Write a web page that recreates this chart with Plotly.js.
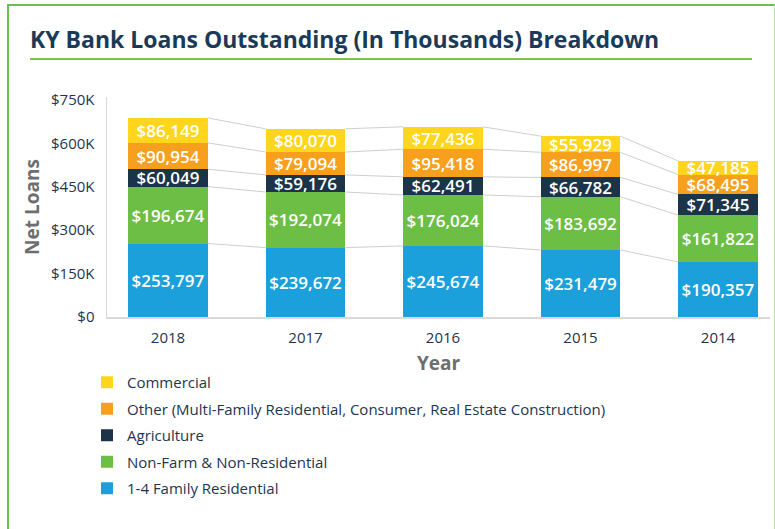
<!DOCTYPE html>
<html>
<head>
<meta charset="utf-8">
<script src="https://cdn.plot.ly/plotly-3.0.1.min.js"></script>
<style>
  html, body { margin: 0; padding: 0; background: #ffffff; overflow: hidden; }
  #chart { position: absolute; left: 0; top: 0; width: 775px; height: 529px; }
  #frame { position: absolute; left: 7px; top: 4px; width: 765px; height: 600px;
           border-left: 2px solid #6cc04a; border-top: 2px solid #6cc04a; border-right: 1px solid #bde3a5;
           pointer-events: none; }
</style>
</head>
<body>
<div id="chart"></div>
<div id="frame"></div>
<script>
// ---- data ----
const years = ["2018", "2017", "2016", "2015", "2014"];
const seriesNames = [
  "1-4 Family Residential",
  "Non-Farm & Non-Residential",
  "Agriculture",
  "Other (Multi-Family Residential, Consumer, Real Estate Construction)",
  "Commercial"
];
const family14   = [253797, 239672, 245674, 231479, 190357];
const nonFarm    = [196674, 192074, 176024, 183692, 161822];
const agriculture= [60049, 59176, 62491, 66782, 71345];
const other      = [90954, 79094, 95418, 86997, 68495];
const commercial = [86149, 80070, 77436, 55929, 47185];
const yTickVals  = [0, 150000, 300000, 450000, 600000, 750000];
const yTickText  = ["$0", "$150K", "$300K", "$450K", "$600K", "$750K"];

// ---- styling ----
const colors = ["#1ba0db", "#6cbe45", "#1c3449", "#f7a01e", "#ffd51e"];
const seriesValues = [family14, nonFarm, agriculture, other, commercial];
const W = 775, H = 529;
const M = { l: 107, r: 5, t: 97, b: 212 };
const plotW = W - M.l - M.r, plotH = H - M.t - M.b;
const xPos = years.map((_, i) => i);
const barW = 0.58;
const navy = "#1e3550";
const gray = "#6d6e71";
const FONT = "Open Sans, Noto Sans, sans-serif";

const traces = [];
// connector ("series") lines between bar tops
const cum = xPos.map(() => 0);
const lineX = [], lineY = [];
seriesValues.forEach(vals => {
  vals.forEach((v, i) => { cum[i] += v; });
  for (let i = 0; i < xPos.length - 1; i++) {
    lineX.push(xPos[i] + barW / 2, xPos[i + 1] - barW / 2, null);
    lineY.push(cum[i], cum[i + 1], null);
  }
});
traces.push({
  type: "scatter", mode: "lines", x: lineX, y: lineY,
  line: { color: "#cfcfcf", width: 1 }, showlegend: false, hoverinfo: "skip"
});

seriesValues.forEach((vals, k) => {
  traces.push({
    type: "bar", name: seriesNames[k], x: xPos, y: vals, width: barW,
    legendgroup: "g" + k,
    legendrank: seriesValues.length - k,
    marker: { color: colors[k], line: { width: 0 } },
    text: vals.map(v => "$" + v.toLocaleString("en-US")),
    textposition: "inside", insidetextanchor: "middle", constraintext: "none",
    textangle: 0,
    insidetextfont: { family: FONT, size: 17, color: "#ffffff", weight: 600 },
    hoverinfo: "name+y"
  });
});

const px2paperX = p => (p - M.l) / plotW;
const px2paperY = p => (H - M.b - p) / plotH;

const layout = {
  width: W, height: H,
  margin: M,
  paper_bgcolor: "rgba(0,0,0,0)", plot_bgcolor: "rgba(0,0,0,0)",
  barmode: "stack",
  showlegend: true,
  title: {
    text: "KY Bank Loans Outstanding (In Thousands) Breakdown",
    xref: "container", yref: "container",
    x: 30 / W, xanchor: "left", y: 1 - 40 / H, yanchor: "middle",
    font: { family: FONT, size: 23, color: "#1b3a57", weight: 700 }
  },
  xaxis: {
    range: [(M.l - 168) / 137.5, (W - M.r - 168) / 137.5],
    tickvals: xPos, ticktext: years,
    showgrid: false, zeroline: false,
    showline: true, linecolor: "#d9d9d9", linewidth: 1.5,
    ticks: "", ticklabelstandoff: 6,
    tickfont: { family: FONT, size: 15, color: navy },
    title: { text: "Year", standoff: 11, font: { family: FONT, size: 19, color: gray, weight: 700 } },
    fixedrange: true
  },
  yaxis: {
    range: [0, 760000],
    tickvals: yTickVals, ticktext: yTickText,
    showgrid: false, zeroline: false,
    showline: true, linecolor: "#d9d9d9", linewidth: 1.5,
    ticks: "", ticklabelstandoff: 8,
    tickfont: { family: FONT, size: 15, color: navy },
    title: { text: "Net Loans", standoff: 6, font: { family: FONT, size: 19, color: gray, weight: 700 } },
    fixedrange: true
  },
  legend: {
    x: px2paperX(87), xanchor: "left",
    y: px2paperY(366), yanchor: "top",
    traceorder: "grouped", tracegroupgap: 4,
    font: { family: FONT, size: 15, color: navy },
    bgcolor: "rgba(0,0,0,0)"
  },
  shapes: [{
    type: "line", xref: "paper", yref: "paper",
    x0: px2paperX(30), x1: px2paperX(752),
    y0: px2paperY(59), y1: px2paperY(59),
    line: { color: "#7dc24b", width: 2 }
  }]
};

Plotly.newPlot("chart", traces, layout, { displayModeBar: false, staticPlot: true });
</script>
</body>
</html>
